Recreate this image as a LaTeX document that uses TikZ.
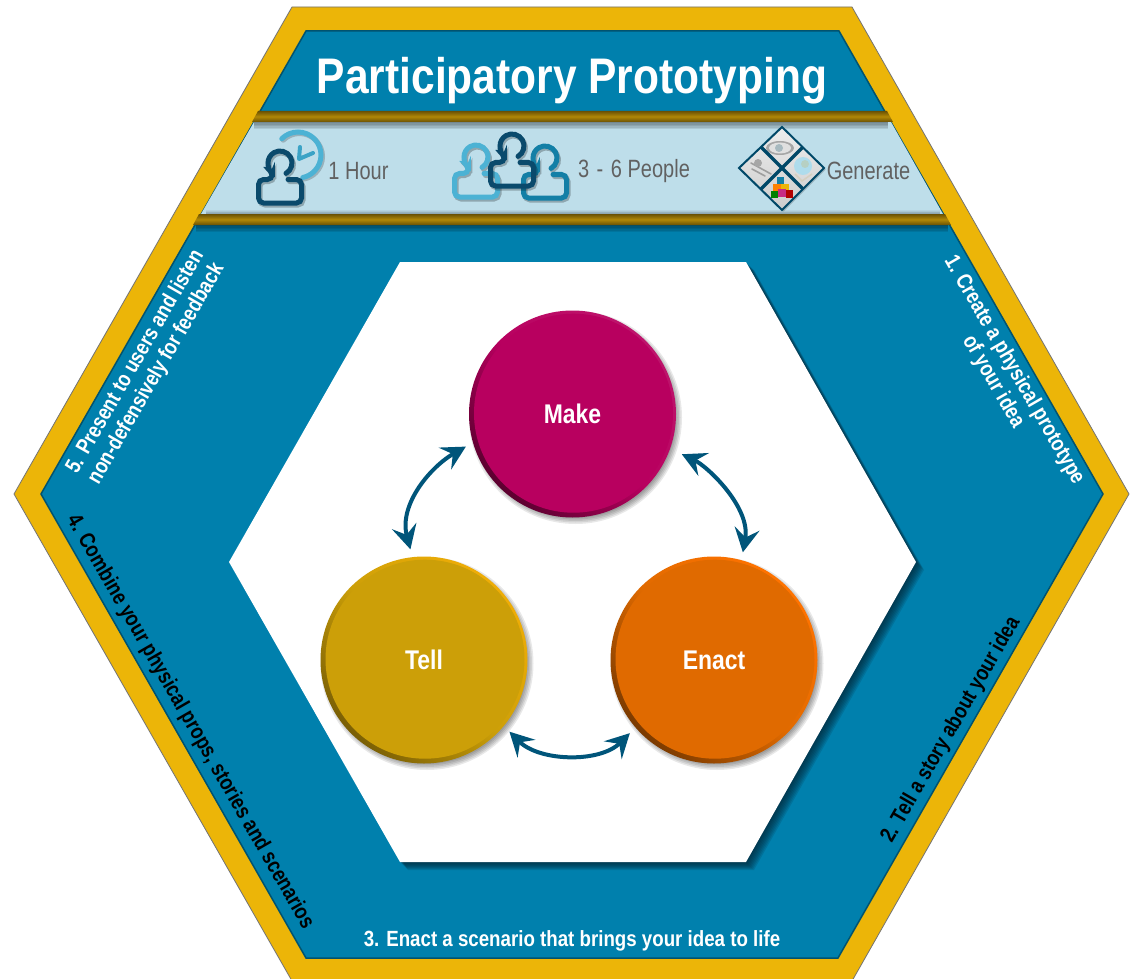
\documentclass[tikz,border=0pt]{standalone}
\usepackage{fontspec}
\usetikzlibrary{arrows.meta,calc}
\newfontfamily\condf[FakeStretch=0.8]{Liberation Sans}
\newfontfamily\condb[FakeStretch=0.85]{Liberation Sans}
\newfontfamily\condr[FakeStretch=0.825]{Liberation Sans}
\definecolor{hexgold}{HTML}{ECB508}
\definecolor{hexblue}{HTML}{0080AD}
\definecolor{bandlight}{HTML}{BEDEEA}
\definecolor{arrowblue}{HTML}{00557A}
\definecolor{icondark}{HTML}{0A4A6C}
\definecolor{iconmid}{HTML}{137FA6}
\definecolor{iconlight}{HTML}{4CB2D4}
\definecolor{makefill}{HTML}{B8005F}
\definecolor{tellfill}{HTML}{CC9F08}
\definecolor{enactfill}{HTML}{E06A00}
\tikzset{
  disc/.style n args={3}{circle,minimum size=207pt,inner sep=0pt,outer sep=8pt,text=white,
    font=\condb\bfseries\fontsize{27}{30}\selectfont,
    top color=#2,bottom color=#3,middle color=#1,shading angle=-45,
    path picture={\fill[#1] ($(path picture bounding box.center)+(1,-0.8)$) circle (99.5);}},
  looparrow/.style={draw=arrowblue,line width=4pt,
    {Stealth[length=24pt,width=25pt,inset=9pt]}-{Stealth[length=24pt,width=25pt,inset=9pt]}},
  sidewhite/.style={text=white,align=center,font=\condr\bfseries\fontsize{22}{24}\selectfont},
  sideblack/.style={text=black,align=center,font=\condr\bfseries\fontsize{22}{24}\selectfont},
  infotext/.style={text=black!62,font=\condf\fontsize{25}{28}\selectfont},
  bandedge/.style={top color=hexgold!45!black,bottom color=hexgold!45!black,middle color=hexgold!75!black},
}
\newcommand{\personicon}[5]{% x,y,scale,colour,width
  \begin{scope}[shift={(#1,#2)},scale=#3]
  \draw[black,opacity=.25,line width=#5pt,line cap=round,rounded corners=5pt,shift={(1.5,2)}]
    (6,10.4) arc (60:-230:12) -- (-7.7,16.5) -- (-21.5,16.5) -- (-21.5,40) -- (21.5,40) -- (21.5,16.5) -- (8,16.5);
  \draw[#4,line width=#5pt,line cap=round,rounded corners=5pt]
    (6,10.4) arc (60:-230:12) -- (-7.7,16.5) -- (-21.5,16.5) -- (-21.5,40) -- (21.5,40) -- (21.5,16.5) -- (8,16.5);
  \end{scope}}
\begin{document}
\begin{tikzpicture}[x=1pt,y=-1pt]
\useasboundingbox (0,0) rectangle (1130,979);
\clip (0,0) rectangle (1130,979);
\fill[white] (0,0) rectangle (1130,979);
% hexagons
\fill[hexgold,draw=black!55,line width=.8pt,line join=miter] (292,7) -- (852,7) -- (1129,494) -- (852,981) -- (292,981) -- (14,494) -- cycle;
\fill[hexblue,draw=hexblue!65!black,line width=1.5pt] (306,31) -- (839,31) -- (1103,494) -- (838,958) -- (306,958) -- (41,494) -- cycle;
% light band
\fill[bandlight] (254,122) -- (891,122) -- (943,214) -- (201,214) -- cycle;
% band shadows
\foreach \i in {1,...,5}{
  \fill[black,opacity=.09] (254,122) rectangle (888,{122+\i*1.4});
  \fill[black,opacity=.09] (196,225) rectangle (948,{225+\i*1.4});
  \fill[black,opacity=.05] (206,214) rectangle (940,{214-\i*0.8});
}
\shade[bandedge] (258,111) -- (887,111) -- (893,122) -- (252,122) -- cycle;
\shade[bandedge] (199,214) -- (945,214) -- (951,225) -- (193,225) -- cycle;
% title
\node (title) at (572,81) [text=white,font=\condb\bfseries\fontsize{50}{55}\selectfont] {Participatory Prototyping};
% icons: clock and person
\draw[black,opacity=.2,line width=5pt,line cap=round,shift={(1.5,1.5)}] (298,155) ++(-135:23) arc (-135:78:23);
\draw[iconlight,line width=5pt,line cap=round] (298,155) ++(-135:23) arc (-135:78:23);
\draw[iconlight!70!iconmid,line width=4pt,line cap=round,line join=round] (300,147) -- (299,159) -- (313,153);
\personicon{280}{163}{1}{icondark}{5}
\node (hour) at (358.5,171) [infotext] {1 Hour};
\personicon{476}{157}{1}{iconlight}{5}
\personicon{545}{158}{1}{iconmid}{5}
\personicon{512}{146}{1}{icondark}{5}
\node (people) at (634,171) [infotext] {3\kern2pt\ -\ \kern2pt6 People};
% diamond icon
\fill[black,opacity=.2] (783.5,128.5) -- (825.5,169.5) -- (783.5,211.5) -- (740.5,169.5) -- cycle;
\shade[top color=black!7,bottom color=black!20,draw=arrowblue!85!black,line width=2pt,line join=miter] (782,127) -- (824,168) -- (782,210) -- (739,168) -- cycle;
\fill[black!35] (780,148) ellipse (14 and 7);
\fill[white!88!black] (780,148) ellipse (11 and 5.5);
\fill[iconlight!45!black!40] (779,148) circle (4);
\draw[black!38,line width=1.6pt,line cap=round] (751,163) -- (771,174);
\draw[black!38,line width=1.6pt,line cap=round] (752,169) -- (765,176);
\fill[black!35] (758,163) circle (4);
\fill[iconlight!45] (803,166) circle (9);
\fill[hexgold!30!green!35!black!30,opacity=.7] (805,164) circle (4);
\draw[hexgold!35!black!25,line width=1.5pt] (795,174) -- (802,181) -- (812,174);
\fill[iconmid] (777,177) rectangle (784,184);
\fill[orange] (773,184) rectangle (781,191);
\fill[hexgold] (781,184) rectangle (789,191);
\fill[green!50!black] (771,191) rectangle (778,198);
\fill[magenta!80!black] (778,189) rectangle (786,197);
\fill[red!70!black] (786,190) rectangle (793,198);
\draw[arrowblue!85!black,line width=3.2pt] (761,147) -- (803,189);
\draw[arrowblue!85!black,line width=3.2pt] (803,147) -- (761,189);
\node (generate) at (868.5,171) [infotext] {Generate};
% white hexagon
\foreach \i in {1,...,8}{
  \fill[black!60!arrowblue,opacity=.14,shift={(\i,\i)}] (400,262) -- (746,262) -- (916,562) -- (746,862) -- (400,862) -- (229,562) -- cycle;
}
\fill[white] (400,262) -- (746,262) -- (916,562) -- (746,862) -- (400,862) -- (229,562) -- cycle;
% disc shadows
\foreach \c in {(572.5,414),(424,660),(714,660)}{
  \foreach \w in {0,1.5,3,4.5,6}{
    \fill[black,opacity=.09,shift={(3,3.5)}] \c circle ({103.5+\w-3});
  }
}
% discs
\node[disc={makefill}{makefill!92!white}{makefill!50!black}] (make) at (572.5,414) {Make};
\node[disc={tellfill}{hexgold!85!orange}{tellfill!60!black}] (tell) at (424,660) {Tell};
\node[disc={enactfill}{orange!90!red}{enactfill!55!black}] (enact) at (714,660) {Enact};
% arrows
\draw[looparrow] (make.197) .. controls +(-35,20) and +(-12,-45) .. (tell.97);
\draw[looparrow,shorten <=5pt] (make.340) .. controls +(30,14) and +(8,-45) .. (enact.75);
\draw[looparrow] (tell.320) .. controls +(30,30) and +(-30,30) .. (enact.221);
% side texts
\node (s1) at (1003.5,376) [sidewhite,rotate=-60] {1. Create a physical prototype\\of your idea};
\node (s2) at (951,730) [sideblack,rotate=60] {2. Tell a story about your idea};
\node (s3) at (572,941) [text=white,font=\condb\bfseries\fontsize{22}{24}\selectfont] {3. Enact a scenario that brings your idea to life};
\node (s4) at (190,722) [sideblack,rotate=-60] {4. Combine your physical props, stories and scenarios};
\node (s5) at (146,368) [sidewhite,rotate=60] {5. Present to users and listen\\non-defensively for feedback};
\end{tikzpicture}
\end{document}
